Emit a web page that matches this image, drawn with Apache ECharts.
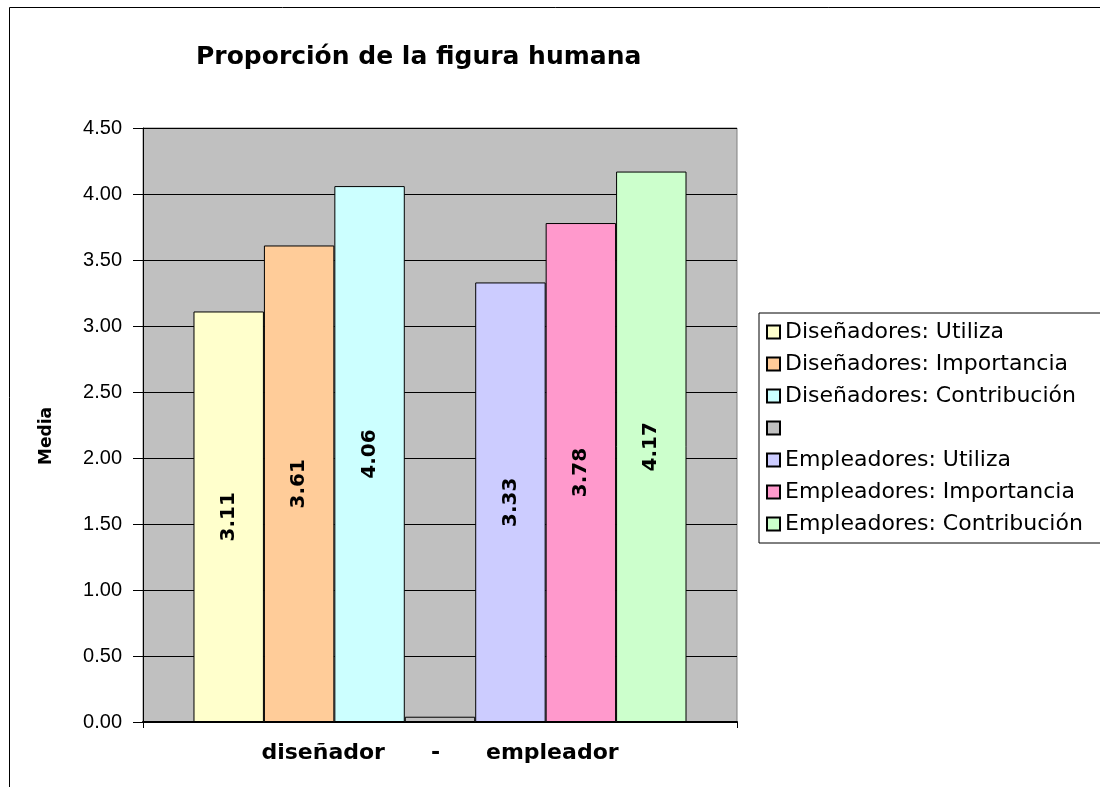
<!DOCTYPE html>
<html>
<head>
<meta charset="utf-8">
<script src="https://cdn.jsdelivr.net/npm/echarts@6/dist/echarts.min.js"></script>
<style>
  html, body { margin: 0; padding: 0; background: #fff; }
  #main { width: 1100px; height: 787px; }
</style>
</head>
<body>
<div id="main"></div>
<script>
// categoria y series
var categories = ['diseñador      -      empleador'];
var seriesNames = [
  'Diseñadores: Utiliza',
  'Diseñadores: Importancia',
  'Diseñadores: Contribución',
  ' ',
  'Empleadores: Utiliza',
  'Empleadores: Importancia',
  'Empleadores: Contribución'
];
var seriesValues = [3.11, 3.61, 4.06, 0.04, 3.33, 3.78, 4.17];
var seriesColors = ['#ffffcc', '#ffcc99', '#ccffff', '#c0c0c0', '#ccccff', '#ff99cc', '#ccffcc'];
var yTicks = [0, 0.5, 1, 1.5, 2, 2.5, 3, 3.5, 4, 4.5];

var chart = echarts.init(document.getElementById('main'));

var series = seriesNames.map(function (name, i) {
  return {
    name: name,
    type: 'bar',
    barGap: 0,
    barCategoryGap: '17%',
    data: [seriesValues[i]],
    itemStyle: { color: seriesColors[i], borderColor: '#000', borderWidth: 1 },
    label: {
      show: name !== ' ',
      position: 'inside',
      rotate: 90,
      formatter: function (p) { return p.value.toFixed(2); },
      fontFamily: 'DejaVu Sans',
      fontWeight: 'bold',
      fontSize: 20,
      color: '#000'
    }
  };
});

var option = {
  backgroundColor: '#fff',
  animation: false,
  title: {
    text: 'Proporción de la figura humana',
    left: 191,
    top: 40,
    textStyle: { fontFamily: 'DejaVu Sans', fontWeight: 'bold', fontSize: 25, color: '#000' }
  },
  graphic: [{
    type: 'rect',
    shape: { x: 9.5, y: 7.5, width: 1100, height: 800 },
    style: { fill: 'none', stroke: '#000', lineWidth: 1 },
    z: 100
  }],
  legend: {
    orient: 'vertical',
    left: 759,
    top: 313,
    padding: [8, 40, 8, 7],
    itemWidth: 13,
    itemHeight: 13,
    itemGap: 10,
    icon: 'rect',
    borderColor: '#000',
    borderWidth: 1,
    data: seriesNames,
    textStyle: { fontFamily: 'DejaVu Sans', fontSize: 22, color: '#000' }
  },
  grid: {
    left: 143,
    right: 363,
    top: 128,
    bottom: 65,
    show: true,
    backgroundColor: '#c0c0c0',
    borderColor: '#808080',
    borderWidth: 1
  },
  xAxis: {
    type: 'category',
    data: categories,
    axisLine: { lineStyle: { color: '#000', width: 2 } },
    axisTick: { show: true, length: 6, lineStyle: { color: '#000' } },
    axisLabel: {
      fontFamily: 'DejaVu Sans',
      fontWeight: 'bold',
      fontSize: 22,
      color: '#000',
      margin: 20
    }
  },
  yAxis: {
    type: 'value',
    name: 'Media',
    nameLocation: 'middle',
    nameGap: 88,
    nameRotate: 90,
    nameTextStyle: { fontFamily: 'DejaVu Sans', fontWeight: 'bold', fontSize: 17, color: '#000', padding: [0, 0, 0, -22] },
    min: yTicks[0],
    max: yTicks[yTicks.length - 1],
    interval: 0.5,
    axisLine: { show: true, lineStyle: { color: '#000' } },
    axisTick: { show: true, length: 10, lineStyle: { color: '#000' } },
    splitLine: { show: true, lineStyle: { color: '#000', width: 1 } },
    axisLabel: {
      formatter: function (v) { return v.toFixed(2); },
      fontFamily: 'Liberation Sans',
      fontSize: 20,
      color: '#000',
      margin: 21
    }
  },
  series: series
};

chart.setOption(option);
</script>
</body>
</html>
